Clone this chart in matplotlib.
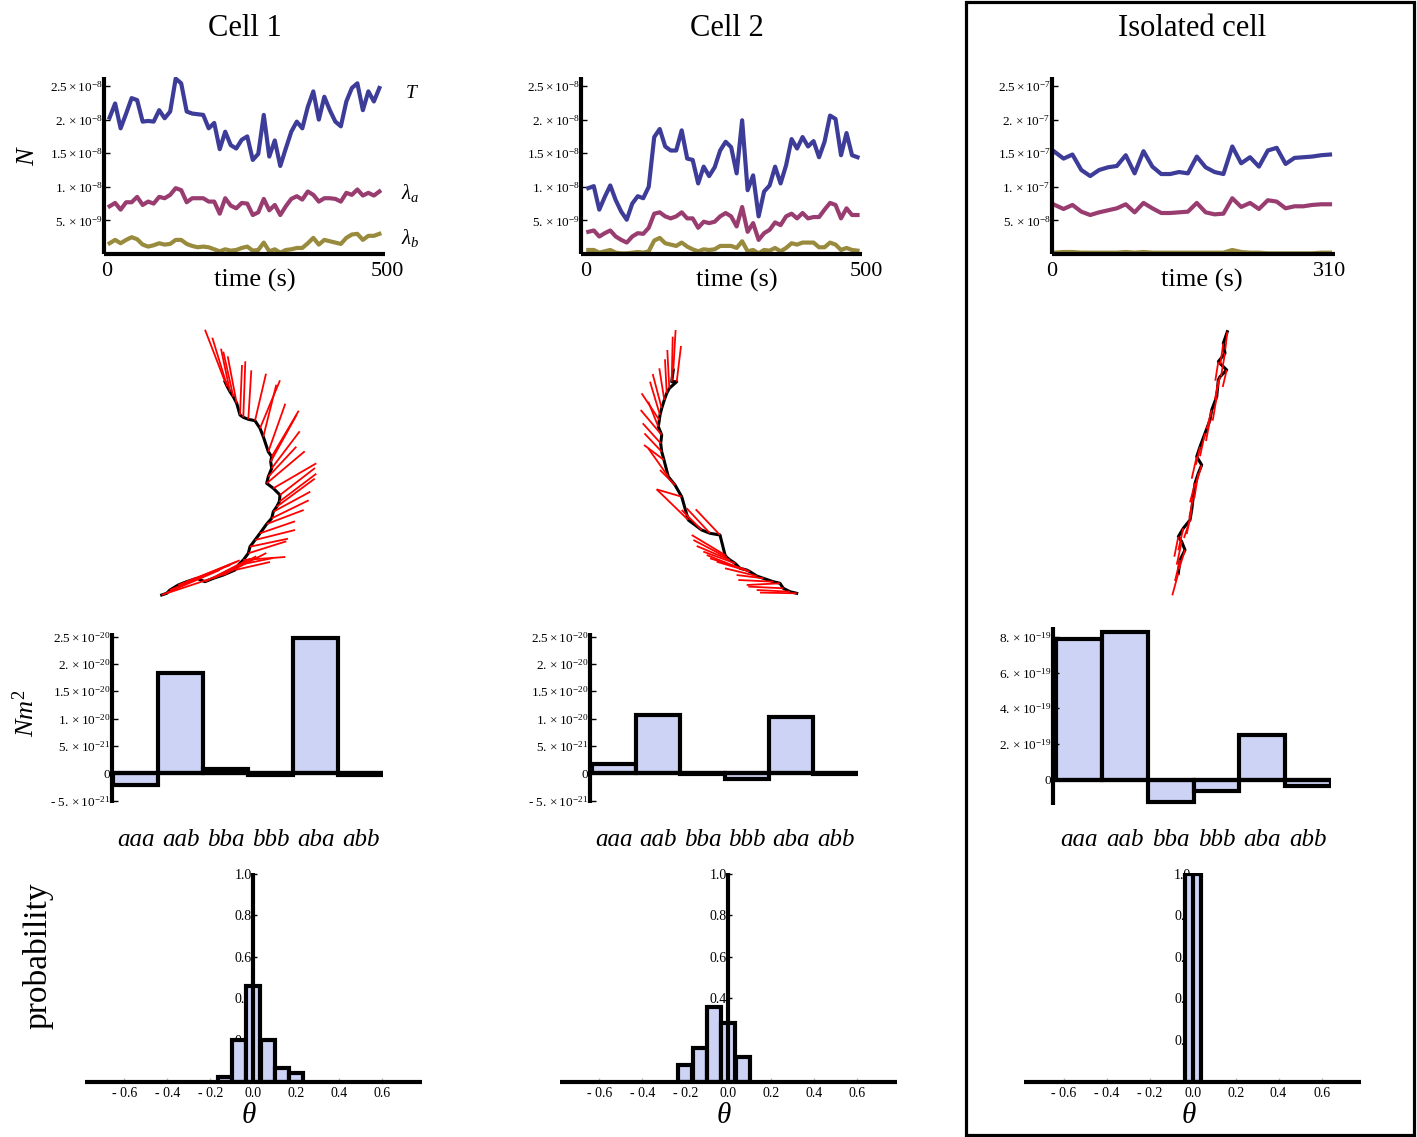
import numpy as np
import matplotlib
matplotlib.use('Agg')
import matplotlib.pyplot as plt
from matplotlib.collections import LineCollection
from matplotlib.patches import Rectangle
from matplotlib.transforms import blended_transform_factory

plt.rcParams['font.family'] = ['Liberation Serif', 'DejaVu Serif']
plt.rcParams['mathtext.fontset'] = 'custom'
plt.rcParams['mathtext.rm'] = 'Liberation Serif'
plt.rcParams['mathtext.it'] = 'Liberation Serif:italic'

W, H = 1417, 1137

# Mathematica default colours
BLUE = '#3d3d99'
PURPLE = '#993d71'
OLIVE = '#998b3d'
BARFILL = '#ccd3f5'

titles = ['Cell 1', 'Cell 2', 'Isolated cell']

# ---- row 1: force time series ----
t_cell = np.linspace(5, 485, 50)
t_iso = np.linspace(3, 310, 32)

T1 = np.array([2.03, 2.24, 1.87, 2.09, 2.32, 2.29, 1.97, 1.98, 1.97, 2.14,
               2.02, 2.12, 2.61, 2.54, 2.12, 2.09, 2.08, 2.07, 1.87, 1.95,
               1.56, 1.82, 1.62, 1.57, 1.70, 1.75, 1.40, 1.49, 2.07, 1.45,
               1.69, 1.31, 1.57, 1.82, 1.97, 1.87, 2.19, 2.42, 2.00, 2.34,
               2.14, 1.97, 1.90, 2.27, 2.47, 2.54, 2.14, 2.42, 2.27, 2.47]) * 1e-8
la1 = np.array([0.71, 0.76, 0.66, 0.77, 0.77, 0.85, 0.73, 0.78, 0.75, 0.85,
                0.83, 0.88, 0.98, 0.95, 0.77, 0.83, 0.83, 0.83, 0.78, 0.78,
                0.60, 0.83, 0.72, 0.68, 0.76, 0.75, 0.58, 0.62, 0.82, 0.65,
                0.73, 0.58, 0.71, 0.82, 0.86, 0.81, 0.93, 0.88, 0.78, 0.83,
                0.83, 0.82, 0.78, 0.91, 0.88, 0.96, 0.87, 0.91, 0.87, 0.93]) * 1e-8
lb1 = np.array([0.16, 0.21, 0.16, 0.21, 0.25, 0.22, 0.14, 0.11, 0.13, 0.16,
                0.14, 0.15, 0.21, 0.21, 0.15, 0.12, 0.10, 0.11, 0.10, 0.07,
                0.04, 0.07, 0.05, 0.06, 0.09, 0.11, 0.05, 0.06, 0.17, 0.04,
                0.07, 0.02, 0.06, 0.07, 0.09, 0.09, 0.16, 0.24, 0.14, 0.21,
                0.19, 0.17, 0.15, 0.24, 0.29, 0.30, 0.21, 0.27, 0.27, 0.30]) * 1e-8

T2 = np.array([0.98, 1.01, 0.66, 0.85, 1.02, 0.80, 0.63, 0.51, 0.75, 0.86,
               0.83, 1.00, 1.74, 1.86, 1.60, 1.54, 1.54, 1.84, 1.42, 1.40,
               1.05, 1.30, 1.16, 1.29, 1.54, 1.67, 1.59, 1.20, 1.99, 0.95,
               1.17, 0.56, 0.93, 1.02, 1.30, 1.05, 1.32, 1.71, 1.57, 1.74,
               1.60, 1.68, 1.44, 1.67, 2.06, 2.01, 1.47, 1.80, 1.47, 1.44]) * 1e-8
la2 = np.array([0.33, 0.35, 0.26, 0.31, 0.35, 0.26, 0.21, 0.17, 0.26, 0.31,
                0.30, 0.39, 0.60, 0.62, 0.56, 0.53, 0.56, 0.62, 0.53, 0.53,
                0.39, 0.48, 0.46, 0.48, 0.56, 0.61, 0.56, 0.41, 0.70, 0.33,
                0.46, 0.21, 0.31, 0.36, 0.47, 0.43, 0.56, 0.60, 0.53, 0.61,
                0.53, 0.55, 0.55, 0.66, 0.76, 0.73, 0.53, 0.68, 0.58, 0.58]) * 1e-8
lb2 = np.array([0.06, 0.06, 0.02, 0.04, 0.06, 0.02, 0.01, 0.01, 0.02, 0.03,
                0.02, 0.04, 0.20, 0.24, 0.16, 0.14, 0.12, 0.17, 0.11, 0.07,
                0.04, 0.07, 0.06, 0.07, 0.12, 0.12, 0.12, 0.09, 0.19, 0.04,
                0.06, 0.01, 0.06, 0.05, 0.09, 0.04, 0.09, 0.16, 0.14, 0.17,
                0.17, 0.17, 0.10, 0.10, 0.17, 0.14, 0.06, 0.09, 0.06, 0.05]) * 1e-8

T3 = np.array([1.52, 1.42, 1.48, 1.25, 1.16, 1.25, 1.29, 1.31, 1.47, 1.20,
               1.53, 1.30, 1.19, 1.19, 1.22, 1.20, 1.45, 1.29, 1.22, 1.19,
               1.60, 1.35, 1.44, 1.30, 1.54, 1.58, 1.34, 1.43, 1.44, 1.45,
               1.47, 1.48]) * 1e-7
la3 = np.array([0.73, 0.67, 0.73, 0.63, 0.58, 0.62, 0.65, 0.68, 0.74, 0.62,
                0.76, 0.68, 0.61, 0.61, 0.62, 0.63, 0.76, 0.62, 0.59, 0.60,
                0.83, 0.70, 0.76, 0.67, 0.80, 0.78, 0.68, 0.71, 0.71, 0.73,
                0.74, 0.74]) * 1e-7
lb3 = np.array([0.02, 0.03, 0.03, 0.02, 0.02, 0.02, 0.02, 0.02, 0.03, 0.02,
                0.03, 0.02, 0.02, 0.02, 0.02, 0.02, 0.02, 0.02, 0.02, 0.02,
                0.06, 0.03, 0.02, 0.02, 0.01, 0.01, 0.01, 0.01, 0.01, 0.01,
                0.02, 0.02]) * 1e-7

top_yticks_cell = [5e-9, 1e-8, 1.5e-8, 2e-8, 2.5e-8]
top_ylabels_cell = [r'$5.\times10^{-9}$', r'$1.\times10^{-8}$', r'$1.5\times10^{-8}$',
                    r'$2.\times10^{-8}$', r'$2.5\times10^{-8}$']
top_yticks_iso = [5e-8, 1e-7, 1.5e-7, 2e-7, 2.5e-7]
top_ylabels_iso = [r'$5.\times10^{-8}$', r'$1.\times10^{-7}$', r'$1.5\times10^{-7}$',
                   r'$2.\times10^{-7}$', r'$2.5\times10^{-7}$']
time_end = [500, 500, 310]

# ---- row 2: trajectories (image pixel coords) and orientation vectors ----
px1 = [225.0, 227.3, 230.0, 233.3, 236.7, 240.0, 243.3, 248.3, 255.0, 260.0,
       263.3, 268.3, 271.7, 270.7, 271.7, 268.3, 266.7, 273.3, 280.0, 279.3,
       276.7, 273.3, 271.7, 266.7, 260.0, 255.0, 250.0, 248.3, 243.3, 238.3,
       235.0, 223.3, 213.3, 205.0, 196.7, 186.7, 178.3, 170.0, 166.7, 161.7]
py1 = [381.7, 386.7, 391.7, 396.7, 403.3, 415.0, 417.3, 419.3, 420.7, 428.3,
       436.7, 451.7, 456.7, 461.7, 468.3, 476.7, 483.3, 488.3, 495.0, 501.7,
       506.7, 511.7, 518.3, 524.0, 533.3, 540.0, 546.7, 553.3, 560.0, 565.0,
       570.0, 575.0, 578.3, 581.7, 578.3, 581.7, 585.0, 590.0, 593.3, 595.0]
u1 = [-20, -15, -9, -10, -9, 2, 2, 3, 11, 20, 13, 17, 27, 26, 28, 28, 38, 43, 35, 37,
      38, 37, 37, 37, 35, 40, 38, 38, 42, 35, 35, 43, 43, 45, 43, 50, 52, 53, 60, 58]
v1 = [-52, -49, -43, -45, -47, -50, -56, -49, -47, -48, -52, -48, -46, -47, -37, -30,
      -32, -25, -27, -28, -28, -20, -18, -14, -12, -10, -8, -12, -3, -7, -8, -22, -22,
      -23, -18, -20, -20, -22, -20, -25]

px2 = [673.3, 671.7, 676.7, 669.3, 666.7, 664.3, 661.7, 660.0, 659.3, 658.3,
       661.7, 660.7, 661.7, 664.0, 668.3, 675.0, 681.7, 688.3, 701.7, 710.0,
       720.0, 725.0, 726.7, 730.0, 735.0, 740.0, 746.7, 750.0, 756.7, 763.3,
       773.3, 780.0, 783.3, 790.0, 796.7]
py2 = [370.0, 381.7, 381.7, 388.3, 393.3, 400.0, 408.3, 415.0, 420.0, 426.7,
       435.0, 443.3, 451.7, 460.0, 476.7, 485.0, 496.7, 520.0, 530.0, 533.3,
       535.0, 555.0, 557.3, 560.0, 563.3, 568.3, 570.0, 571.7, 576.0, 578.3,
       581.7, 583.3, 588.3, 591.7, 593.3]
u2 = [2.3, 1.0, 4.3, -2.0, -1.7, -5.0, -9.0, -10.0, -17.7, -10.0, -21.0, -18.0,
      -17.3, -20.0, -20.0, -15.0, -25.0, -31.7, -20.0, -23.3, -24.3, -33.3, -33.3,
      -33.3, -31.7, -33.3, -36.7, -33.3, -31.7, -26.7, -35.0, -33.3, -35.0, -33.3, -36.7]
v2 = [-40.0, -45.0, -35.7, -38.3, -34.0, -31.7, -34.3, -33.3, -26.7, -25.0, -25.0,
      -20.0, -18.3, -15.0, -28.3, -15.0, -7.3, -30.7, -20.0, -25.0, -25.7, -20.0,
      -17.3, -14.0, -11.7, -13.3, -11.7, -10.0, -7.7, -3.3, -1.7, 1.7, -1.7, -1.7, -0.7]

px3 = [1227.3, 1223.3, 1225.0, 1218.3, 1226.7, 1220.0, 1218.3, 1216.7, 1211.7, 1210.0,
       1205.0, 1200.0, 1196.7, 1201.7, 1198.3, 1195.0, 1193.3, 1191.7, 1190.0, 1183.3,
       1178.3, 1181.7, 1185.0, 1180.0, 1178.3]
py3 = [331.7, 343.3, 353.3, 361.7, 370.0, 376.7, 380.0, 396.7, 410.0, 420.0,
       433.3, 446.7, 456.7, 465.0, 473.3, 483.3, 496.7, 510.0, 520.0, 528.3,
       536.7, 541.7, 550.0, 560.0, 573.3]
u3 = [-2, -3, -4, -3, -4, -5, -3, -4, -5, -4, -5, -4, -5, -6, -4, -5, -4, -5, -6, -5,
      -4, -5, -6, -5, -6]
v3 = [18, 21, 23, 19, 17, 22, 20, 24, 19, 21, 23, 18, 22, 20, 25, 19, 21, 24, 18, 22,
      20, 23, 19, 21, 22]

# ---- row 3: torque per motif ----
motifs = ['aaa', 'aab', 'bba', 'bbb', 'aba', 'abb']
torque1 = [-2.1e-21, 1.83e-20, 7e-22, -4e-22, 2.47e-20, -4e-22]
torque2 = [1.7e-21, 1.07e-20, -1e-22, -1.1e-21, 1.03e-20, -1e-22]
torque3 = [7.9e-19, 8.3e-19, -1.25e-19, -0.65e-19, 2.5e-19, -0.35e-19]
bar_yticks_cell = [-5e-21, 0, 5e-21, 1e-20, 1.5e-20, 2e-20, 2.5e-20]
bar_ylabels_cell = [r'- $5.\times10^{-21}$', '0', r'$5.\times10^{-21}$', r'$1.\times10^{-20}$',
                    r'$1.5\times10^{-20}$', r'$2.\times10^{-20}$', r'$2.5\times10^{-20}$']
bar_yticks_iso = [0, 2e-19, 4e-19, 6e-19, 8e-19]
bar_ylabels_iso = ['0', r'$2.\times10^{-19}$', r'$4.\times10^{-19}$', r'$6.\times10^{-19}$',
                   r'$8.\times10^{-19}$']

# ---- row 4: angle histograms ----
theta1 = [-0.133, -0.067, 0.0, 0.067, 0.133, 0.2]
prob1 = [0.024, 0.20, 0.46, 0.20, 0.064, 0.043]
theta2 = [-0.2, -0.133, -0.067, 0.0, 0.067]
prob2 = [0.08, 0.16, 0.36, 0.28, 0.12]
theta3 = [0.0]
prob3 = [1.0]
hist_width = [0.066, 0.066, 0.074]
hist_xticks = [-0.6, -0.4, -0.2, 0.0, 0.2, 0.4, 0.6]
hist_xlabels = ['- 0.6', '- 0.4', '- 0.2', '0.0', '0.2', '0.4', '0.6']
hist_yticks = [0.2, 0.4, 0.6, 0.8, 1.0]
hist_ylabels = ['0.2', '0.4', '0.6', '0.8', '1.0']


fig = plt.figure(figsize=(W / 100, H / 100), dpi=100)


def px_axes(x0, y0, x1, y1):
    return fig.add_axes([x0 / W, 1 - y1 / H, (x1 - x0) / W, (y1 - y0) / H])


def px_text(x, y, s, **kw):
    fig.text(x / W, 1 - y / H, s, **kw)


def mma_axes(ax):
    for s in ['top', 'right']:
        ax.spines[s].set_visible(False)
    for s in ['left', 'bottom']:
        ax.spines[s].set_linewidth(3)
        ax.spines[s].set_capstyle('butt')
    ax.patch.set_alpha(0)


# column titles and frame round the isolated cell
for x, title in zip([245, 727, 1192], titles):
    px_text(x, 28, title, ha='center', va='center', fontsize=22)
fig.add_artist(Rectangle((966 / W, 1 - 1135 / H), (1414 - 966) / W, (1135 - 2) / H,
                         transform=fig.transFigure, fill=False, lw=2.3, ec='black'))

# row 1
top_series = [(t_cell, T1, la1, lb1), (t_cell, T2, la2, lb2), (t_iso, T3, la3, lb3)]
top_boxes = [(104, 77, 385, 254), (581, 77, 862, 254), (1052, 77, 1335, 254)]
top_xlims = [(-5, 495), (-8, 493), (0, 315.6)]
top_ymax = [2.634e-8, 2.634e-8, 2.634e-7]
time_label_x = [255, 737, 1202]
for i in range(3):
    ax = px_axes(*top_boxes[i])
    t, a, b, c = top_series[i]
    ax.plot(t, a, color=BLUE, lw=3)
    ax.plot(t, b, color=PURPLE, lw=3)
    ax.plot(t, c, color=OLIVE, lw=3)
    ax.set_xlim(*top_xlims[i])
    ax.set_ylim(0, top_ymax[i])
    mma_axes(ax)
    ax.set_xticks([])
    if i < 2:
        ax.set_yticks(top_yticks_cell, top_ylabels_cell)
    else:
        ax.set_yticks(top_yticks_iso, top_ylabels_iso)
    ax.tick_params(axis='y', direction='in', length=4, width=1, labelsize=9.5, pad=1)
    tr = blended_transform_factory(ax.transData, fig.transFigure)
    ax.text(0, 1 - 272 / H, '0', transform=tr, ha='center', va='center', fontsize=16)
    ax.text(time_end[i], 1 - 272 / H, str(time_end[i]), transform=tr,
            ha='center', va='center', fontsize=16)
    px_text(time_label_x[i], 280, 'time (s)', ha='center', va='center', fontsize=19)

px_text(28, 155, r'$N$', rotation=90, ha='center', va='center', fontsize=19)
px_text(412, 93, r'$T$', ha='center', va='center', fontsize=14)
px_text(410, 193, r'$\lambda_a$', ha='center', va='center', fontsize=15)
px_text(410, 238, r'$\lambda_b$', ha='center', va='center', fontsize=15)

# row 2
traj = [(px1, py1, u1, v1), (px2, py2, u2, v2), (px3, py3, u3, v3)]
traj_boxes = [(100, 310, 400, 610), (580, 310, 880, 610), (1050, 310, 1350, 610)]
for i in range(3):
    x0, y0, x1, y1 = traj_boxes[i]
    ax = px_axes(x0, y0, x1, y1)
    x, y, u, v = [np.array(a) for a in traj[i]]
    ax.plot(x, y, color='black', lw=2.2, zorder=1)
    segs = np.stack([np.column_stack([x, y]), np.column_stack([x + u, y + v])], axis=1)
    ax.add_collection(LineCollection(segs, colors='#ff0000', linewidths=1.3, zorder=2))
    ax.set_xlim(x0, x1)
    ax.set_ylim(y1, y0)
    ax.axis('off')

# row 3
torques = [torque1, torque2, torque3]
bar_boxes = [(111.7, 632.7, 383, 803), (590, 632.7, 857.7, 803), (1052.7, 626.7, 1331, 805)]
bar_xleft = [-0.529, -0.538, -0.572]
bar_ylims = [(-0.543e-20, 2.57e-20), (-0.543e-20, 2.57e-20), (-1.43e-19, 8.57e-19)]
for i in range(3):
    ax = px_axes(*bar_boxes[i])
    ax.bar(range(6), torques[i], width=1.0, color=BARFILL, edgecolor='black', lw=3)
    ax.set_xlim(bar_xleft[i], 5.5)
    ax.set_ylim(*bar_ylims[i])
    mma_axes(ax)
    ax.spines['bottom'].set_position(('data', 0))
    ax.set_xticks([])
    if i < 2:
        ax.set_yticks(bar_yticks_cell, bar_ylabels_cell)
    else:
        ax.set_yticks(bar_yticks_iso, bar_ylabels_iso)
    ax.tick_params(axis='y', direction='in', length=4, width=1, labelsize=9.5, pad=1)
    tr = blended_transform_factory(ax.transData, fig.transFigure)
    for k, m in enumerate(motifs):
        ax.text(k, 1 - 840 / H, m, transform=tr, ha='center', va='center',
                fontsize=18, style='italic')

px_text(26, 713, r'$Nm^2$', rotation=90, ha='center', va='center', fontsize=19)

# row 4
hists = [(theta1, prob1), (theta2, prob2), (theta3, prob3)]
hist_axis_x = [253.3, 728.3, 1192.7]
for i in range(3):
    cx = hist_axis_x[i]
    ax = px_axes(cx - 168.6, 872.7, cx + 168.6, 1081.5)
    th, pr = hists[i]
    ax.bar(th, pr, width=hist_width[i], color=BARFILL, edgecolor='black', lw=3, zorder=1)
    ax.set_xlim(-0.785, 0.785)
    ax.set_ylim(0, 1.006)
    mma_axes(ax)
    ax.set_axisbelow(True)
    ax.spines['left'].set_position(('data', 0))
    ax.spines['left'].set_zorder(3)
    ax.spines['bottom'].set_zorder(3)
    ax.set_xticks(hist_xticks, hist_xlabels)
    ax.set_yticks(hist_yticks, hist_ylabels)
    ax.tick_params(axis='x', direction='in', length=3, width=1, color='#bbbbbb',
                   labelsize=10, pad=4)
    ax.tick_params(axis='y', direction='in', length=3, width=1, labelsize=10, pad=1)
    px_text(cx - 4, 1116, r'$\theta$', ha='center', va='center', fontsize=21)

px_text(38, 956, 'probability', rotation=90, ha='center', va='center', fontsize=24)

fig.savefig('out.png', dpi=100)
plt.close(fig)
